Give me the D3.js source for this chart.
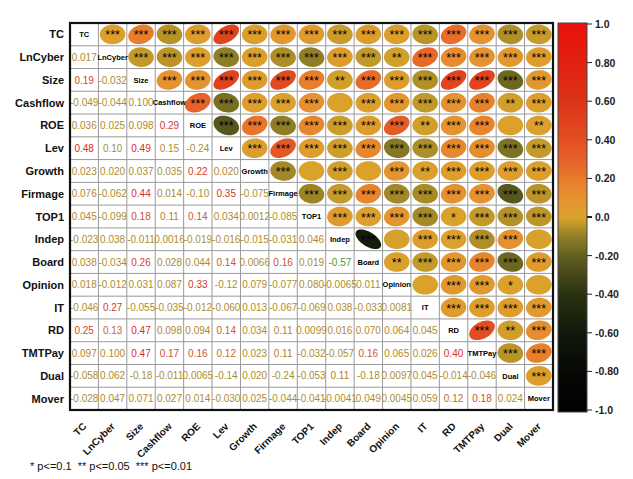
<!DOCTYPE html>
<html>
<head>
<meta charset="utf-8">
<script src="https://cdn.jsdelivr.net/npm/d3@7"></script>
<style>
  body { margin: 0; background: #ffffff; }
  svg { display: block; }
  text { font-family: "Liberation Sans", Arial, Helvetica, sans-serif; }
</style>
</head>
<body>
<svg id="chart" width="633" height="479"></svg>
<script>
// Variables of the correlation matrix
const variables = ["TC", "LnCyber", "Size", "Cashflow", "ROE", "Lev", "Growth", "Firmage",
  "TOP1", "Indep", "Board", "Opinion", "IT", "RD", "TMTPay", "Dual", "Mover"];

// Lower triangle: printed coefficients, row i holds pairs (i, 0..i-1)
const corrText = [
  [],
  ["0.017"],
  ["0.19", "-0.032"],
  ["-0.049", "-0.044", "0.100"],
  ["0.036", "0.025", "0.098", "0.29"],
  ["0.48", "0.10", "0.49", "0.15", "-0.24"],
  ["0.023", "0.020", "0.037", "0.035", "0.22", "0.020"],
  ["0.076", "-0.062", "0.44", "0.014", "-0.10", "0.35", "-0.075"],
  ["0.045", "-0.099", "0.18", "0.11", "0.14", "0.034", "0.0012", "-0.085"],
  ["-0.023", "0.038", "-0.011", "0.0016", "-0.019", "-0.016", "-0.015", "-0.031", "0.046"],
  ["0.038", "-0.034", "0.26", "0.028", "0.044", "0.14", "0.0066", "0.16", "0.019", "-0.57"],
  ["0.018", "-0.012", "0.031", "0.087", "0.33", "-0.12", "0.079", "-0.077", "0.080", "-0.0065", "0.011"],
  ["-0.046", "0.27", "-0.055", "-0.035", "-0.012", "-0.060", "0.013", "-0.067", "-0.069", "0.038", "-0.033", "0.0081"],
  ["0.25", "0.13", "0.47", "0.098", "0.094", "0.14", "0.034", "0.11", "0.0099", "0.016", "0.070", "0.064", "0.045"],
  ["0.097", "0.100", "0.47", "0.17", "0.16", "0.12", "0.023", "0.11", "-0.032", "-0.057", "0.16", "0.065", "0.026", "0.40"],
  ["-0.058", "0.062", "-0.18", "-0.011", "0.0065", "-0.14", "0.020", "-0.24", "-0.053", "0.11", "-0.18", "0.0097", "0.045", "-0.014", "-0.046"],
  ["-0.028", "0.047", "0.071", "0.027", "0.014", "-0.030", "0.025", "-0.044", "-0.041", "-0.0041", "0.049", "0.0045", "0.059", "0.12", "0.18", "0.024"]
];

// Upper triangle: significance stars, row i holds pairs (i, i+1..16)
const starText = [
  ["***", "***", "***", "***", "***", "***", "***", "***", "***", "***", "***", "***", "***", "***", "***", "***"],
  ["***", "***", "***", "***", "***", "***", "***", "***", "***", "**", "***", "***", "***", "***", "***"],
  ["***", "***", "***", "***", "***", "***", "**", "***", "***", "***", "***", "***", "***", "***"],
  ["***", "***", "***", "***", "***", "", "***", "***", "***", "***", "***", "**", "***"],
  ["***", "***", "***", "***", "***", "***", "***", "**", "***", "***", "", "**"],
  ["***", "***", "***", "***", "***", "***", "***", "***", "***", "***", "***"],
  ["***", "", "***", "", "***", "**", "***", "***", "***", "***"],
  ["***", "***", "***", "***", "***", "***", "***", "***", "***"],
  ["***", "***", "***", "***", "*", "***", "***", "***"],
  ["***", "", "***", "***", "***", "***", ""],
  ["**", "***", "***", "***", "***", "***"],
  ["", "***", "***", "*", ""],
  ["***", "***", "***", "***"],
  ["***", "**", "***"],
  ["***", "***"],
  ["***"],
  []
];

// Ellipse coefficients that differ from the printed lower-triangle value
const ellipseOverrides = [
  ["LnCyber", "Lev", -0.10],
  ["Cashflow", "Lev", -0.15]
];

const colorbarTicks = [1.0, 0.8, 0.6, 0.4, 0.2, 0.0, -0.2, -0.4, -0.6, -0.8, -1.0];
const colorbarTickLabels = ["1.0", "0.80", "0.60", "0.40", "0.20", "0.0", "-0.20", "-0.40", "-0.60", "-0.80", "-1.0"];
const legendText = "* p<=0.1  ** p<=0.05  *** p<=0.01";

// ---- scales ----
const svg = d3.select("#chart");
const x = d3.scaleBand().domain(variables).range([70, 553]);
const y = d3.scaleBand().domain(variables).range([23, 410]);
const cw = x.bandwidth(), ch = y.bandwidth();

const fillColor = d3.scaleLinear()
  .domain([-1, -0.8, -0.6, -0.4, -0.3, -0.2, -0.1, -0.03, 0, 0.1, 0.2, 0.3, 0.4, 0.6, 0.8, 1])
  .range(["#000000", "#060805", "#10180a", "#28320f", "#45461a", "#62601f", "#8e7e25", "#c59a2a",
          "#daa22b", "#e59330", "#e87a2a", "#e6622a", "#e24e22", "#dc3418", "#e2200f", "#e8120c"])
  .clamp(true);

const textColor = d3.scaleLinear()
  .domain([-0.6, -0.3, -0.1, 0, 0.1, 0.14, 0.2, 0.5])
  .range(["#3a9a30", "#9a9430", "#a89030", "#b08c2c", "#b4862c", "#cc5a30", "#d4442c", "#d8281e"])
  .clamp(true);

// full matrix of values
const value = (i, j) => (i > j ? +corrText[i][j] : +corrText[j][i]);
const ellipseValue = (i, j) => {
  const o = ellipseOverrides.find(d =>
    (d[0] === variables[i] && d[1] === variables[j]) || (d[0] === variables[j] && d[1] === variables[i]));
  return o ? o[2] : value(i, j);
};

// ---- grid ----
const grid = svg.append("g");
variables.forEach((v, k) => {
  if (k > 0) {
    grid.append("line").attr("x1", x(v)).attr("x2", x(v)).attr("y1", 23).attr("y2", 410)
      .attr("stroke", "#9a9a9a").attr("stroke-width", 1);
    grid.append("line").attr("x1", 70).attr("x2", 553).attr("y1", y(v)).attr("y2", y(v))
      .attr("stroke", "#9a9a9a").attr("stroke-width", 1);
  }
});

// ---- ellipses (upper triangle) ----
function ellipsePath(r, cx, cy, rx, ry) {
  const d = Math.acos(Math.max(-1, Math.min(1, r)));
  const pts = d3.range(0, 2 * Math.PI, Math.PI / 48)
    .map(t => [cx + rx * Math.cos(t + d / 2), cy - ry * Math.cos(t - d / 2)]);
  return d3.line().curve(d3.curveLinearClosed)(pts);
}

const cells = svg.append("g");
variables.forEach((vi, i) => {
  variables.forEach((vj, j) => {
    const cx = x(vj) + cw / 2, cy = y(vi) + ch / 2;
    if (j > i) {
      const r = ellipseValue(i, j);
      cells.append("path")
        .attr("d", ellipsePath(r, cx, cy, cw * 0.45, ch * 0.43))
        .attr("fill", fillColor(r));
      const s = starText[i][j - i - 1];
      if (s) {
        cells.append("text").attr("x", cx).attr("y", cy + 5)
          .attr("text-anchor", "middle").attr("font-size", 12.5).attr("fill", "#000")
          .text(s);
      }
    } else if (j < i) {
      cells.append("text").attr("x", cx).attr("y", cy + 3.6)
        .attr("text-anchor", "middle").attr("font-size", 10)
        .attr("fill", textColor(ellipseValue(i, j)))
        .text(corrText[i][j]);
    } else {
      cells.append("text").attr("x", cx).attr("y", cy + 2.7)
        .attr("text-anchor", "middle").attr("font-size", 7.5).attr("font-weight", "bold")
        .attr("fill", "#000").text(vi);
    }
  });
});

// outer border
svg.append("rect").attr("x", 70).attr("y", 23).attr("width", 483).attr("height", 387)
  .attr("fill", "none").attr("stroke", "#111").attr("stroke-width", 2.2);

// ---- axis labels ----
svg.append("g").selectAll("text").data(variables).join("text")
  .attr("x", 64).attr("y", d => y(d) + ch / 2 + 4)
  .attr("text-anchor", "end").attr("font-size", 11).attr("font-weight", "bold").attr("fill", "#111")
  .text(d => d);

svg.append("g").selectAll("text").data(variables).join("text")
  .attr("transform", d => `translate(${x(d) + cw / 2 + 3},${427}) rotate(-45)`)
  .attr("text-anchor", "end").attr("font-size", 10).attr("font-weight", "bold").attr("fill", "#111")
  .text(d => d);

// ---- colour bar ----
const cb = d3.scaleLinear().domain([-1, 1]).range([410, 24]);
const defs = svg.append("defs");
const grad = defs.append("linearGradient").attr("id", "cbar")
  .attr("x1", 0).attr("x2", 0).attr("y1", 1).attr("y2", 0);
d3.range(0, 201).forEach(k => {
  const v = -1 + k / 100;
  grad.append("stop").attr("offset", (k / 200)).attr("stop-color", fillColor(v));
});
svg.append("rect").attr("x", 558).attr("y", 23).attr("width", 29).attr("height", 389)
  .attr("fill", "url(#cbar)").attr("stroke", "#444").attr("stroke-width", 1);

const cbAxis = svg.append("g");
colorbarTicks.forEach((t, k) => {
  cbAxis.append("line").attr("x1", 587).attr("x2", 592).attr("y1", cb(t)).attr("y2", cb(t))
    .attr("stroke", "#222").attr("stroke-width", t === 0 ? 2 : 1);
  cbAxis.append("text").attr("x", 595).attr("y", cb(t) + 4)
    .attr("font-size", 10.5).attr("font-weight", "bold").attr("fill", "#222")
    .text(colorbarTickLabels[k]);
});

// ---- significance legend ----
svg.append("text").attr("x", 30).attr("y", 470).attr("font-size", 11).attr("fill", "#111")
  .attr("xml:space", "preserve").style("white-space", "pre")
  .text(legendText);
</script>
</body>
</html>
